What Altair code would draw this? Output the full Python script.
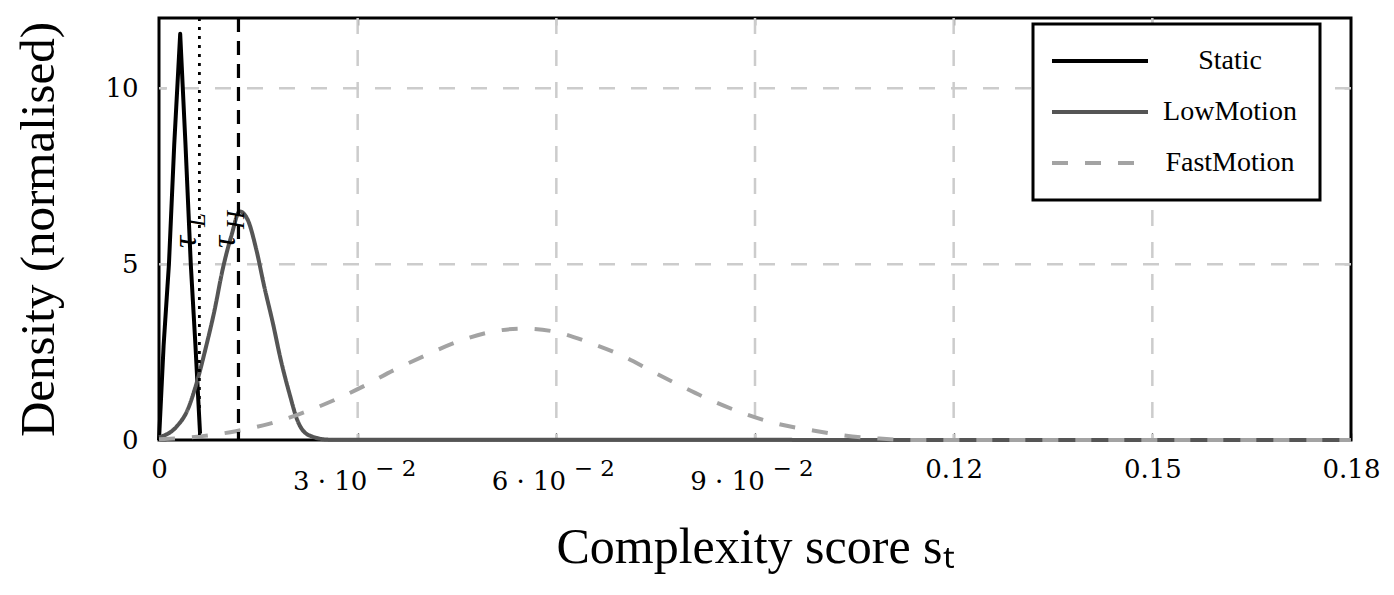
import altair as alt
import pandas as pd

# ---- data ----
series_names = ["Static", "LowMotion", "FastMotion"]
series_colors = ["#000000", "#555555", "#a3a3a3"]

static_x = [0.0, 0.0007, 0.0015, 0.0023, 0.0032, 0.0040, 0.0048, 0.0055, 0.0062]
static_y = [0.0, 2.7, 5.0, 8.4, 11.55, 8.4, 5.0, 2.7, 0.18]

low_x = [0.0, 0.0026, 0.0043, 0.0058, 0.0071, 0.0084, 0.0096, 0.0109, 0.0122,
         0.0134, 0.0147, 0.0159, 0.0172, 0.0184, 0.0197, 0.0209, 0.0227, 0.0257, 0.18]
low_y = [0.08, 0.37, 0.85, 1.70, 2.65, 3.70, 4.84, 5.79, 6.5,
         6.26, 5.41, 4.36, 3.32, 2.27, 1.32, 0.56, 0.13, 0.01, 0.0]

fast_x = [0.0, 0.0065, 0.0116, 0.0166, 0.0211, 0.0264, 0.0310, 0.0355, 0.0403,
          0.0450, 0.0498, 0.0550, 0.0600, 0.0650, 0.0698, 0.0743, 0.0791, 0.0836,
          0.0884, 0.0934, 0.0985, 0.1035, 0.1088, 0.1138, 0.18]
fast_y = [0.02, 0.11, 0.25, 0.46, 0.73, 1.13, 1.54, 1.99, 2.41,
          2.79, 3.06, 3.17, 3.07, 2.77, 2.41, 1.97, 1.51, 1.11,
          0.75, 0.46, 0.28, 0.13, 0.04, 0.0, 0.0]

tau_x = [0.0061, 0.0120]
tau_sub = ["L", "H"]
tau_label_y = 6.0

x_ticks = [0, 0.03, 0.06, 0.09, 0.12, 0.15, 0.18]
x_sci_ticks = [0.03, 0.06, 0.09]
x_sci_exp = ["\u2212 2", "\u2212 2", "\u2212 2"]
x_grid = [0.03, 0.06, 0.09, 0.12, 0.15]
y_ticks = [0, 5, 10]
y_grid = [5, 10]

# ---- tables ----
rows = []
for name, xs, ys in [("Static", static_x, static_y),
                     ("LowMotion", low_x, low_y),
                     ("FastMotion", fast_x, fast_y)]:
    for a, b in zip(xs, ys):
        rows.append({"series": name, "s": a, "d": b})
df = pd.DataFrame(rows)
df_static = df[df.series == "Static"]
df_low = df[df.series == "LowMotion"]
df_fast = df[df.series == "FastMotion"]

df_xgrid = pd.DataFrame({"g": x_grid})
df_ygrid = pd.DataFrame({"g": y_grid})
df_tauL = pd.DataFrame({"t": [tau_x[0]]})
df_tauH = pd.DataFrame({"t": [tau_x[1]]})
df_tau_lab = pd.DataFrame({"t": tau_x, "y": [tau_label_y] * 2, "sub": tau_sub,
                           "tau": ["τ", "τ"]})
df_exp = pd.DataFrame({"t": x_sci_ticks, "y": [0] * len(x_sci_ticks), "e": x_sci_exp})

W, H = 1192, 422
xs = alt.Scale(domain=[0, 0.18], nice=False, zero=False)
ys = alt.Scale(domain=[0, 12], nice=False)

SERIF = "Liberation Serif"
NUMF = "DejaVu Serif"
LW = 4
SCI_TEST = "datum.value > 0.01 && datum.value < 0.1"

label_expr = ("datum.value == 0 ? '0' : (datum.value < 0.1 ? "
              "format(datum.value*100, '.0f') + ' · 10' : format(datum.value, '.2f'))")

bottom_axis = alt.Axis(
    orient="bottom", values=x_ticks, labelExpr=label_expr,
    offset=-7, tickSize=7, tickWidth=1.3, tickColor="black", domain=False, grid=False,
    labelFont=NUMF, labelFontSize=26, labelColor="black", labelFlush=False,
    labelPadding={"condition": {"test": SCI_TEST, "value": 28}, "value": 16},
    labelOffset={"condition": {"test": SCI_TEST, "value": -28}, "value": 0},
    labelBaseline="top",
    title="Complexity score sₜ", titleFont=SERIF, titleFontSize=50,
    titleFontWeight="normal", titleColor="black", titlePadding=28,
)
left_axis = alt.Axis(
    orient="left", values=y_ticks, offset=-7, tickSize=7, tickWidth=1.3,
    tickColor="black", domain=False, grid=False,
    labelFont=NUMF, labelFontSize=26, labelColor="black", labelPadding=21,
    title="Density (normalised)", titleFont=SERIF, titleFontSize=49,
    titleFontWeight="normal", titleColor="black", titlePadding=41,
)
top_axis = alt.Axis(orient="top", values=x_grid, offset=-7, tickSize=7, tickWidth=1.3,
                    tickColor="black", labels=False, domain=False, grid=False, title=None)
right_axis = alt.Axis(orient="right", values=y_grid, offset=-7, tickSize=7, tickWidth=1.3,
                      tickColor="black", labels=False, domain=False, grid=False, title=None)

legend = alt.Legend(
    orient="none", legendX=874, legendY=6, title=None,
    symbolType="M-1.5,0L6.5,0", symbolSize=576, symbolStrokeWidth=LW,
    labelFont=SERIF, labelFontSize=28, labelColor="black", labelAlign="center",
    labelOffset=146, padding=23, rowPadding=23, strokeColor="black",
    fillColor="white", labelLimit=400,
)

color_enc = alt.Color("series:N", scale=alt.Scale(domain=series_names, range=series_colors),
                      legend=legend)
dash_enc = alt.StrokeDash("series:N", scale=alt.Scale(domain=series_names,
                                                      range=[[1, 0], [1, 0], [16, 17]]),
                          legend=legend)

vgrid = alt.Chart(df_xgrid).mark_rule(color="#cccccc", strokeWidth=2.5, strokeDash=[16, 16]).encode(
    x=alt.X("g:Q", scale=xs, axis=top_axis))
hgrid = alt.Chart(df_ygrid).mark_rule(color="#cccccc", strokeWidth=2.5, strokeDash=[16, 16]).encode(
    y=alt.Y("g:Q", scale=ys, axis=right_axis))

line_static = alt.Chart(df_static).mark_line(strokeWidth=LW, strokeJoin="round").encode(
    x=alt.X("s:Q", scale=xs, axis=bottom_axis),
    y=alt.Y("d:Q", scale=ys, axis=left_axis),
    color=color_enc, strokeDash=dash_enc)
line_low = alt.Chart(df_low).mark_line(strokeWidth=LW, interpolate="monotone").encode(
    x=alt.X("s:Q", scale=xs, axis=None),
    y=alt.Y("d:Q", scale=ys, axis=None),
    color=color_enc, strokeDash=dash_enc)
line_fast = alt.Chart(df_fast).mark_line(strokeWidth=LW, interpolate="monotone").encode(
    x=alt.X("s:Q", scale=xs, axis=None),
    y=alt.Y("d:Q", scale=ys, axis=None),
    color=color_enc, strokeDash=dash_enc)

tauL = alt.Chart(df_tauL).mark_rule(color="black", strokeWidth=2.8, strokeDash=[3, 6]).encode(
    x=alt.X("t:Q", scale=xs, axis=None))
tauH = alt.Chart(df_tauH).mark_rule(color="black", strokeWidth=3.2, strokeDash=[14, 9]).encode(
    x=alt.X("t:Q", scale=xs, axis=None))

tau_text = alt.Chart(df_tau_lab).mark_text(
    font=SERIF, fontStyle="italic", fontSize=34, angle=270, align="center",
    baseline="alphabetic", dx=-13, dy=-3, color="black").encode(
    x=alt.X("t:Q", scale=xs, axis=None), y=alt.Y("y:Q", scale=ys, axis=None), text="tau:N")
sub_text = alt.Chart(df_tau_lab).mark_text(
    font=SERIF, fontStyle="italic", fontSize=25, angle=270, align="center",
    baseline="alphabetic", dx=9, dy=6, color="black").encode(
    x=alt.X("t:Q", scale=xs, axis=None), y=alt.Y("y:Q", scale=ys, axis=None), text="sub:N")

# raised exponent of the "· 10^-2" tick labels, anchored on the tick value
exp_text = alt.Chart(df_exp).mark_text(
    font=NUMF, fontSize=23, align="center", baseline="top", dx=38, dy=18,
    color="black").encode(
    x=alt.X("t:Q", scale=xs, axis=None), y=alt.Y("y:Q", scale=ys, axis=None), text="e:N")

chart = alt.layer(vgrid, hgrid, line_static, line_low, line_fast, tauL, tauH,
                  tau_text, sub_text, exp_text).resolve_axis(
    x="independent", y="independent"
).properties(
    width=W, height=H,
    padding={"left": 6, "top": 8, "right": 5, "bottom": 5},
).configure_view(stroke="black", strokeWidth=3).configure_legend(strokeWidth=3)

chart.save("out.html", embed_options={"renderer": "svg", "actions": False})
